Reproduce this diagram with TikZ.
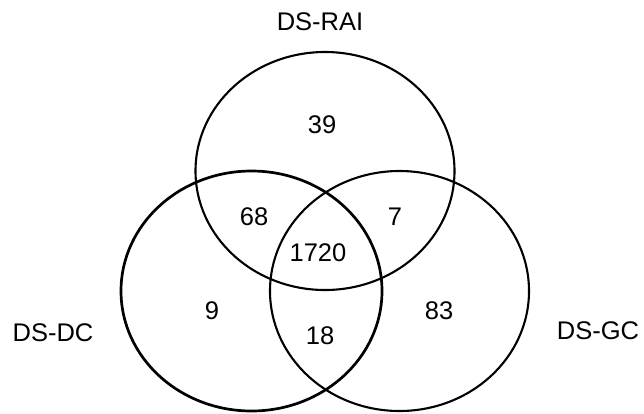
\documentclass[tikz,border=0pt]{standalone}
\usepackage{fontspec}
\setmainfont{Liberation Sans}
\begin{document}
\begin{tikzpicture}[x=1pt,y=-1pt,
  lbl/.style={inner sep=0pt, font=\fontsize{25.5}{30}\selectfont},
  ring/.style={draw=black, line width=2.1pt},
  thickring/.style={draw=black, line width=2.7pt}]
\useasboundingbox (0,0) rectangle (644,413);
\draw[ring] (325,171) ellipse [x radius=129.5pt, y radius=119pt];
\draw[thickring] (251.5,291) ellipse [x radius=130.5pt, y radius=120pt];
\draw[ring] (399.5,291) ellipse [x radius=129.5pt, y radius=120pt];
\node[lbl] (rai) at (320,21.5) {DS-RAI};
\node[lbl] (dc) at (53,333) {DS-DC};
\node[lbl] (gc) at (598,331) {DS-GC};
\node[lbl] (n39) at (322,125) {39};
\node[lbl] (n68) at (254,217) {68};
\node[lbl] (n7) at (395,217) {7};
\node[lbl] (n1720) at (318,253) {1720};
\node[lbl] (n9) at (212,311) {9};
\node[lbl] (n18) at (320,336) {18};
\node[lbl] (n83) at (439,311) {83};
\end{tikzpicture}
\end{document}
